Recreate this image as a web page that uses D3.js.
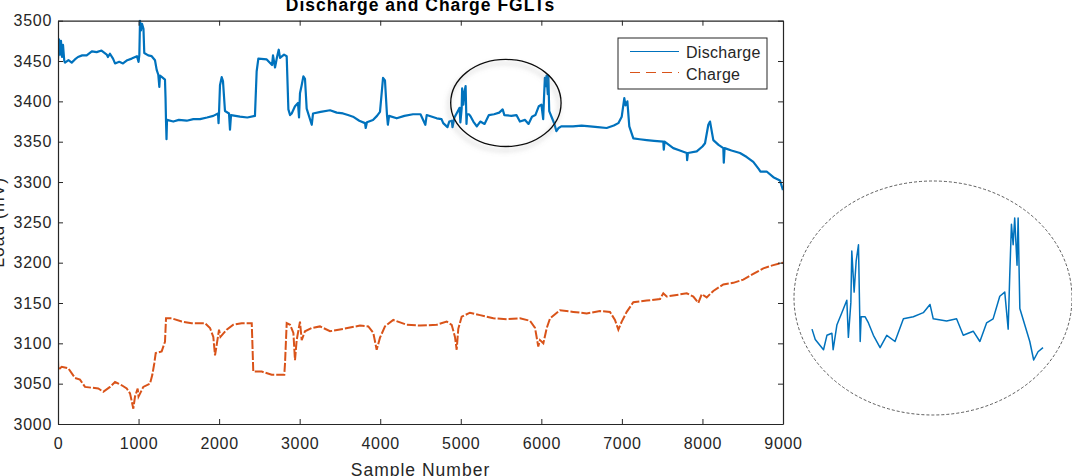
<!DOCTYPE html>
<html>
<head lang="en">
    <meta charset="utf-8">
    <title>Discharge and Charge FGLTs</title>
    <style type="text/css">
        body { margin: 0; background: #fff; }
        text { font-family: "Liberation Sans", Arial, sans-serif; fill: #262626; }
        .axis path, .axis line { stroke: #262626; }
        .axis text { font-size: 16px; letter-spacing: 0.7px; }
    </style>
</head>
<body>
<svg id="chart" width="1072" height="476"></svg>

<script src="https://d3js.org/d3.v7.min.js"></script>
<script type="text/javascript">
    // discharge load (mV), sample number -> value
    var dischargeSamples = [0, 12, 25, 37, 50, 62, 78, 87, 130, 170, 210, 248, 300, 356, 420, 480, 540, 605, 620, 645,
        683, 708, 760, 807, 860, 915, 980, 1000, 1010, 1018, 1030, 1043, 1061, 1071, 1120, 1163, 1204, 1225, 1245, 1258,
        1266, 1291, 1328, 1335, 1341, 1347, 1353, 1431, 1500, 1598, 1680, 1763, 1850, 1928, 1986, 1993, 1999, 2011, 2032, 2048,
        2073, 2123, 2135, 2148, 2259, 2350, 2445, 2466, 2487, 2591, 2657, 2669, 2694, 2719, 2740, 2756, 2806, 2839, 2860, 2881,
        2901, 2942, 2979, 2992, 3004, 3025, 3046, 3066, 3087, 3150, 3166, 3260, 3377, 3460, 3538, 3600, 3662, 3740, 3811, 3820,
        3835, 3910, 3960, 3997, 4035, 4059, 4084, 4095, 4110, 4205, 4300, 4407, 4500, 4560, 4577, 4701,
        4761, 4782, 4835, 4857, 4889, 4897, 4921, 4953, 4985, 4995, 5011, 5017, 5032, 5045, 5060, 5071, 5077, 5103, 5124, 5156,
        5199, 5242, 5295, 5349, 5413, 5477, 5520, 5541, 5627, 5691, 5734, 5798, 5841, 5884, 5926, 5969, 6001, 6023, 6033, 6044,
        6055, 6065, 6080, 6087, 6098, 6130, 6162, 6187, 6215, 6247,
        6300, 6393, 6500, 6604, 6700, 6811, 6900, 6956, 6998, 7030, 7045, 7068, 7092, 7142, 7220, 7308, 7400, 7514, 7520, 7530,
        7638, 7720, 7805, 7810, 7820, 7929, 8000, 8032, 8073, 8094, 8135, 8200, 8259, 8265, 8275, 8360, 8466, 8550, 8631, 8700,
        8720, 8797, 8880, 8962, 9000];
    var dischargeLoad = [3452, 3477, 3458, 3475, 3455, 3470, 3450, 3448, 3451, 3448, 3452, 3455, 3457, 3457, 3462, 3461, 3463, 3458, 3455, 3459,
        3453, 3447, 3449, 3447, 3451, 3453, 3456, 3449, 3458, 3500, 3488, 3496, 3490, 3460, 3457, 3456, 3451, 3439, 3433, 3418,
        3432, 3430, 3427, 3404, 3375, 3353, 3377, 3375, 3377, 3376, 3378, 3378, 3380, 3382, 3385, 3373, 3386, 3420, 3430, 3425,
        3388, 3385, 3365, 3383, 3381, 3380, 3382, 3437, 3453, 3452, 3445, 3457, 3442, 3455, 3464, 3454, 3458, 3456, 3390, 3383,
        3385, 3394, 3398, 3380, 3410, 3420, 3431, 3428, 3391, 3371, 3385, 3387, 3389, 3386, 3385, 3383, 3381, 3376, 3373, 3367,
        3374, 3377, 3382, 3387, 3429, 3426, 3383, 3371, 3382, 3379, 3382, 3384, 3384, 3371, 3383, 3379,
        3378, 3373, 3368, 3375, 3376, 3368, 3380, 3386, 3392, 3374, 3391, 3416, 3396, 3411, 3419, 3372, 3384, 3384, 3381, 3375,
        3369, 3375, 3372, 3383, 3384, 3386, 3390, 3383, 3382, 3383, 3375, 3377, 3372, 3381, 3383, 3394, 3396, 3378, 3404, 3429,
        3419, 3432, 3409, 3432, 3388, 3380, 3372, 3363, 3367, 3369,
        3369, 3369, 3370, 3369, 3368, 3367, 3370, 3373, 3381, 3404, 3395, 3400, 3369, 3354, 3353, 3352, 3351, 3350, 3340, 3350,
        3342, 3339, 3336, 3327, 3336, 3338, 3344, 3348, 3371, 3375, 3352, 3346, 3342, 3324, 3342, 3339, 3336, 3331, 3325, 3316,
        3313, 3313, 3306, 3302, 3290];

    // charge load (mV)
    var chargeSamples = [0, 4, 46, 128, 211, 273, 335, 500, 562, 646, 708, 791, 853, 894, 935, 956, 989, 1000, 1059, 1142,
        1171, 1195, 1213, 1287, 1328, 1341, 1411, 1536, 1660, 1825, 1887, 1928, 1949, 1970, 1999, 2017, 2094, 2176, 2280, 2405,
        2412, 2424, 2529, 2653, 2809, 2818, 2839, 2881, 2922, 2942, 2963, 3004, 3025, 3066, 3149, 3252, 3377, 3542, 3749, 3852,
        3914, 3956, 3997, 4059, 4162, 4329, 4494, 4701, 4825, 4887, 4928, 4949, 4969, 5011, 5114, 5239, 5404, 5570, 5735, 5859,
        5922, 5962, 5983, 6025, 6067, 6108, 6232, 6397, 6563, 6728, 6852, 6914, 6956, 6998, 7060, 7142, 7308, 7474, 7514, 7556,
        7680, 7805, 7887, 7949, 7991, 8053, 8135, 8259, 8383, 8507, 8631, 8756, 8880, 9000];
    var chargeLoad = [3079, 3067, 3071, 3069, 3057, 3055, 3046, 3044, 3040, 3046, 3052, 3048, 3044, 3038, 3019, 3034, 3044, 3034, 3046, 3050,
        3061, 3075, 3088, 3090, 3102, 3131, 3131, 3127, 3125, 3125, 3119, 3108, 3085, 3098, 3117, 3108, 3117, 3123, 3125, 3125,
        3104, 3065, 3065, 3061, 3061, 3075, 3125, 3123, 3113, 3079, 3104, 3127, 3104, 3115, 3119, 3121, 3115, 3118, 3122, 3121,
        3113, 3092, 3107, 3121, 3129, 3123, 3122, 3123, 3127, 3123, 3108, 3092, 3118, 3133, 3138, 3135, 3131, 3130, 3131, 3128,
        3119, 3096, 3104, 3100, 3119, 3131, 3141, 3139, 3137, 3140, 3139, 3129, 3117, 3127, 3139, 3151, 3153, 3155, 3162, 3158,
        3160, 3162, 3158, 3150, 3161, 3157, 3165, 3173, 3175, 3179, 3186, 3193, 3197, 3200];

    var xTicks = [0, 1000, 2000, 3000, 4000, 5000, 6000, 7000, 8000, 9000];
    var yTicks = [3000, 3050, 3100, 3150, 3200, 3250, 3300, 3350, 3400, 3450, 3500];
    var seriesNames = ["Discharge", "Charge"];

    // annotation: circled region and its zoomed inset
    var circleCenter = [5560, 3398];   // sample, mV
    var circleRadius = [685, 54];
    var insetRange = [4761, 6247];

    var svg = d3.select("#chart");
    var plotLeft = 58, plotRight = 783, plotTop = 20.7, plotBottom = 424;

    var x = d3.scaleLinear().domain([0, 9000]).range([plotLeft, plotRight]);
    var y = d3.scaleLinear().domain([3000, 3500]).range([plotBottom, plotTop]);

    // drop shadow for the circle
    var defs = svg.append("defs");
    defs.append("filter").attr("id", "shadow")
        .attr("x", "-30%").attr("y", "-30%").attr("width", "160%").attr("height", "160%")
        .append("feDropShadow")
        .attr("dx", -2).attr("dy", 4).attr("stdDeviation", 2.5)
        .attr("flood-color", "#888").attr("flood-opacity", 0.55);
    defs.append("clipPath").attr("id", "plot-clip")
        .append("rect").attr("x", plotLeft).attr("y", plotTop - 1)
        .attr("width", plotRight - plotLeft).attr("height", plotBottom - plotTop + 2);

    var discharge = dischargeSamples.map(function (s, i) { return [s, dischargeLoad[i]]; });
    var charge = chargeSamples.map(function (s, i) { return [s, chargeLoad[i]]; });

    var line = d3.line()
        .x(function (d) { return x(d[0]); })
        .y(function (d) { return y(d[1]); });

    var plot = svg.append("g").attr("clip-path", "url(#plot-clip)");
    plot.append("path").datum(discharge)
        .attr("d", line)
        .attr("fill", "none").attr("stroke", "#0072BD").attr("stroke-width", 2.2)
        .attr("stroke-linejoin", "round");
    plot.append("path").datum(charge)
        .attr("d", line)
        .attr("fill", "none").attr("stroke", "#D95319").attr("stroke-width", 2)
        .attr("stroke-dasharray", "9,2");

    // axes: ticks inward on all four sides, labels only left and bottom
    svg.append("g").attr("class", "axis")
        .attr("transform", "translate(0," + plotBottom + ")")
        .call(d3.axisBottom(x).tickValues(xTicks).tickFormat(d3.format("d"))
            .tickSizeInner(-5).tickSizeOuter(0).tickPadding(14));
    svg.append("g").attr("class", "axis")
        .attr("transform", "translate(" + plotLeft + ",0)")
        .call(d3.axisLeft(y).tickValues(yTicks).tickFormat(d3.format("d"))
            .tickSizeInner(-5).tickSizeOuter(0).tickPadding(6));
    svg.append("g").attr("class", "axis")
        .attr("transform", "translate(0," + plotTop + ")")
        .call(d3.axisTop(x).tickValues(xTicks).tickFormat("")
            .tickSizeInner(-5).tickSizeOuter(0));
    svg.append("g").attr("class", "axis")
        .attr("transform", "translate(" + plotRight + ",0)")
        .call(d3.axisRight(y).tickValues(yTicks).tickFormat("")
            .tickSizeInner(-5).tickSizeOuter(0));
    svg.selectAll(".axis .domain").attr("stroke-width", 1.2);

    // title and axis labels (they sit partly outside the frame, as in the original)
    svg.append("text")
        .attr("x", (plotLeft + plotRight) / 2).attr("y", 10.5)
        .attr("text-anchor", "middle")
        .style("font-size", "17.5px").style("font-weight", "bold").style("letter-spacing", "1px")
        .style("fill", "#000")
        .text("Discharge and Charge FGLTs");
    svg.append("text")
        .attr("x", (plotLeft + plotRight) / 2).attr("y", 475.5)
        .attr("text-anchor", "middle")
        .style("font-size", "17.5px").style("letter-spacing", "1px")
        .text("Sample Number");
    svg.append("text")
        .attr("transform", "translate(3.5," + (plotTop + plotBottom) / 2 + ") rotate(-90)")
        .attr("text-anchor", "middle")
        .style("font-size", "17.5px").style("letter-spacing", "1px")
        .text("Load (mV)");

    // legend
    var legend = svg.append("g").attr("transform", "translate(618,38)");
    legend.append("rect")
        .attr("width", 149).attr("height", 51)
        .attr("fill", "#fff").attr("stroke", "#262626").attr("stroke-width", 1);
    legend.selectAll("line")
        .data(seriesNames)
        .enter().append("line")
        .attr("x1", 12).attr("x2", 61)
        .attr("y1", function (d, i) { return 13.5 + 21 * i; })
        .attr("y2", function (d, i) { return 13.5 + 21 * i; })
        .attr("stroke", function (d, i) { return i === 0 ? "#0072BD" : "#D95319"; })
        .attr("stroke-width", 1.1)
        .attr("stroke-dasharray", function (d, i) { return i === 0 ? null : "10,6"; });
    legend.selectAll("text")
        .data(seriesNames)
        .enter().append("text")
        .attr("x", 68)
        .attr("y", function (d, i) { return 19.5 + 22.5 * i; })
        .style("font-size", "16px").style("letter-spacing", "0.3px")
        .text(function (d) { return d; });

    // circle round the region that is zoomed
    svg.append("ellipse")
        .attr("cx", x(circleCenter[0])).attr("cy", y(circleCenter[1]))
        .attr("rx", x(circleRadius[0]) - x(0))
        .attr("ry", y(3000) - y(3000 + circleRadius[1]))
        .attr("fill", "none").attr("stroke", "#111").attr("stroke-width", 1.4)
        .attr("filter", "url(#shadow)");

    // inset: same discharge data, magnified, inside a dashed ellipse
    svg.append("ellipse")
        .attr("cx", 933).attr("cy", 298).attr("rx", 139).attr("ry", 117)
        .attr("fill", "none").attr("stroke", "#333").attr("stroke-width", 0.8)
        .attr("stroke-dasharray", "3,2");

    var xi = d3.scaleLinear().domain(insetRange).range([812, 1043]);
    var yi = d3.scaleLinear().domain([3363, 3432]).range([360, 218]);
    var insetData = discharge.filter(function (d) {
        return d[0] >= insetRange[0] && d[0] <= insetRange[1];
    });
    svg.append("path").datum(insetData)
        .attr("d", d3.line()
            .x(function (d) { return xi(d[0]); })
            .y(function (d) { return yi(d[1]); }))
        .attr("fill", "none").attr("stroke", "#0072BD").attr("stroke-width", 1.5)
        .attr("stroke-linejoin", "round");
</script>
</body>
</html>
